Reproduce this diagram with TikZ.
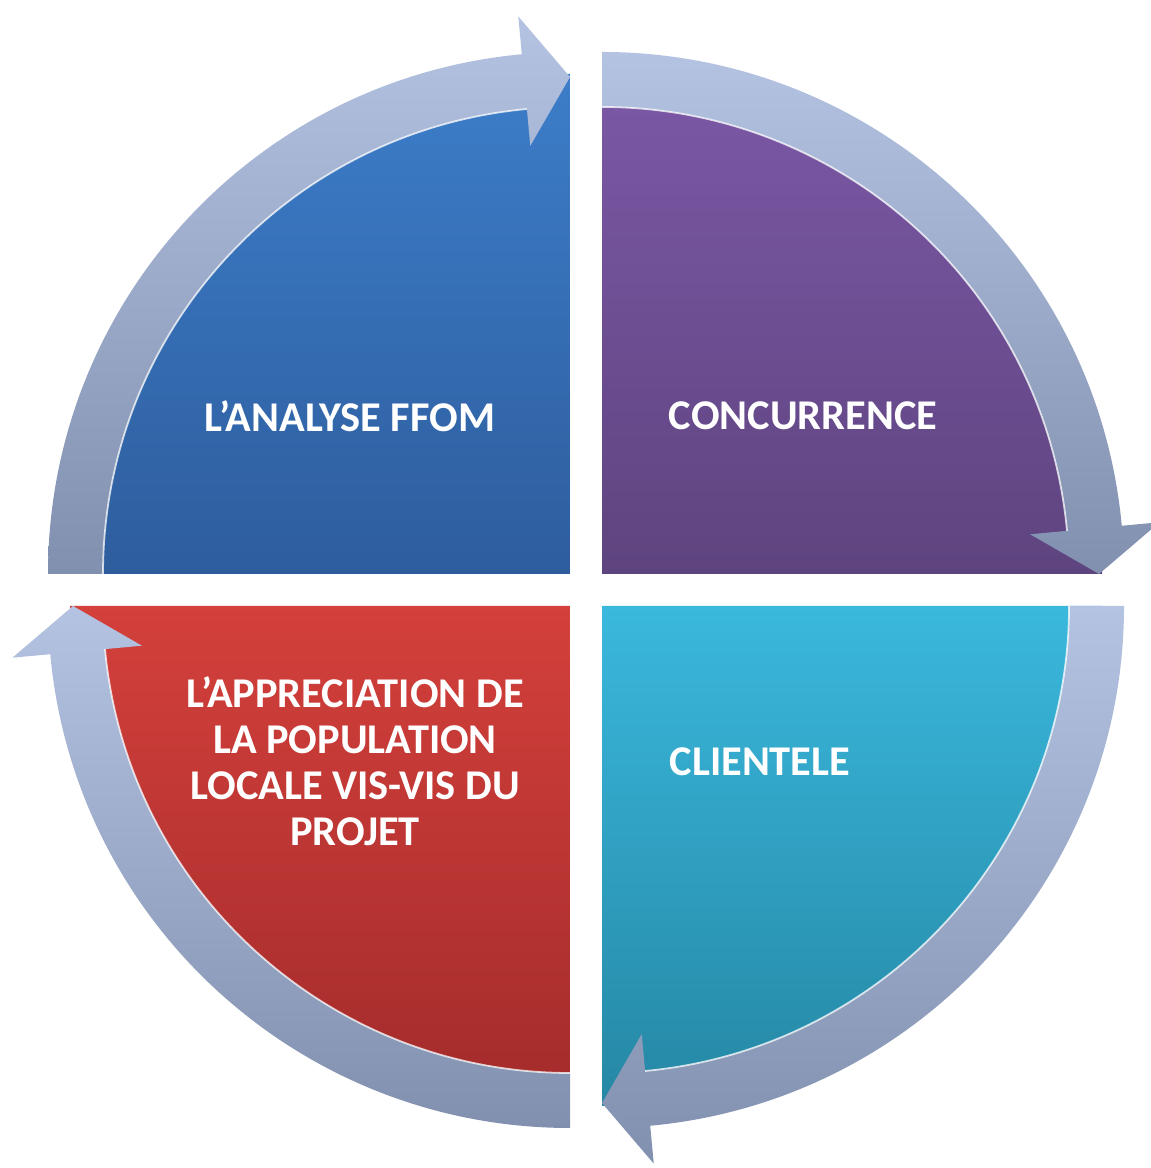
\documentclass[tikz,border=0pt]{standalone}
\usepackage{fontspec}
\setmainfont{Carlito}
\usetikzlibrary{calc}

\definecolor{bluetop}{HTML}{3C7DC9}
\definecolor{bluebot}{HTML}{2E5D9D}
\definecolor{purptop}{HTML}{7C58A6}
\definecolor{purpbot}{HTML}{5E447F}
\definecolor{tealtop}{HTML}{3AB8DD}
\definecolor{tealbot}{HTML}{2587A4}
\definecolor{redtop}{HTML}{D4403B}
\definecolor{redbot}{HTML}{A22B2B}
\definecolor{arrowtop}{HTML}{B4C3E1}
\definecolor{arrowbot}{HTML}{8090AE}

\tikzset{
  quadtext/.style={text=white,font=\bfseries\fontsize{12.05}{13.1}\selectfont,align=center,inner sep=0pt},
  cyclearrow/.style={top color=arrowtop,bottom color=arrowbot},
  shine/.style={white,line width=0.5pt,opacity=0.75}
}

\begin{document}
\begin{tikzpicture}[x=0.01cm,y=0.01cm]
\useasboundingbox (0,0) rectangle (1150,1168);
\coordinate (TL) at (570,594);
\coordinate (TR) at (602,594);
\coordinate (BR) at (602,562);
\coordinate (BL) at (570,562);

% quarter discs
\shade[top color=bluetop,bottom color=bluebot] (TL) -- ++(180:500) arc[start angle=180,end angle=90,radius=500] -- cycle;
\shade[top color=purptop,bottom color=purpbot] (TR) -- ++(90:500) arc[start angle=90,end angle=0,radius=500] -- cycle;
\shade[top color=tealtop,bottom color=tealbot] (BR) -- ++(0:500) arc[start angle=0,end angle=-90,radius=500] -- cycle;
\shade[top color=redtop,bottom color=redbot] (BL) -- ++(-90:500) arc[start angle=-90,end angle=-180,radius=500] -- cycle;

% curved arrows round the circle
\foreach \c/\a in {TL/180,TR/90,BR/0,BL/-90}{
  \shade[cyclearrow] ($(\c)+(\a:522)$) arc[start angle=\a,end angle=\a-84.7,radius=522]
    -- ($(\c)+(\a-84.7:560)$) -- ($(\c)+(\a-90:497)$) -- ($(\c)+(\a-84.7:430)$)
    -- ($(\c)+(\a-84.7:467)$) arc[start angle=\a-84.7,end angle=\a,radius=467] -- cycle;
  \draw[shine] ($(\c)+(\a-84.7:467)$) arc[start angle=\a-84.7,end angle=\a,radius=467];
}

\node[quadtext] (ffom) at (350,752) {L’ANALYSE FFOM};
\node[quadtext] (concur) at (803,752) {CONCURRENCE};
\node[quadtext,anchor=west] (client) at (669,406) {CLIENTELE};
\node[quadtext] (apprec) at (355,407) {L’APPRECIATION DE\\LA POPULATION\\LOCALE VIS-VIS DU\\PROJET};
\end{tikzpicture}
\end{document}
